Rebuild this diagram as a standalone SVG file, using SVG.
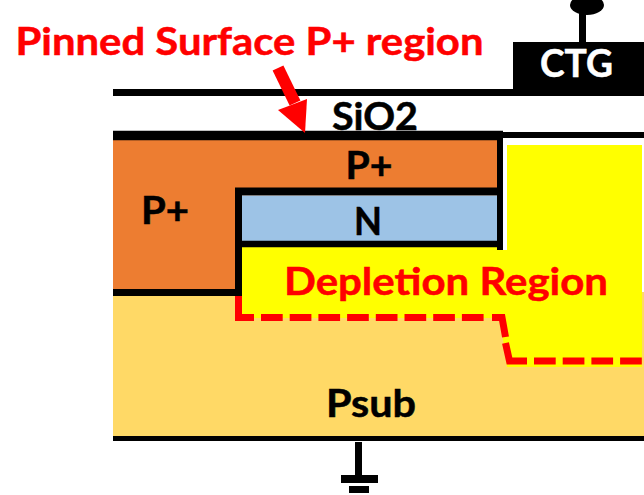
<svg xmlns="http://www.w3.org/2000/svg" width="644" height="495" viewBox="0 0 644 495">
<style>
text{font-family:Lato,"Liberation Sans",sans-serif;font-weight:700;text-anchor:middle;stroke-width:.5}
.k{fill:#000;stroke:#000}
.r{fill:#f00;stroke:#f00}
.o{fill:none;stroke:#000;stroke-width:7}
.d{fill:none;stroke:#f00;stroke-width:7}
.dd{stroke-dasharray:21.700 7}
</style>
<rect width="644" height="495" fill="#fff"/>
<g id="psub"><rect x="113" y="292" width="531" height="145" fill="#ffd966"/><rect x="113" y="436" width="531" height="5" fill="#000"/><text class="k" x="371" y="417" font-size="38" textLength="90" lengthAdjust="spacingAndGlyphs">Psub</text></g>
<g id="depletion"><path d="M642 145H507V247H242V318H500L507 367H642Z" fill="#ff0"/><rect x="503" y="138" width="141" height="7" fill="#fff"/><rect x="503" y="138" width="4" height="112" fill="#fff"/><text class="r" x="446" y="295" font-size="38" textLength="324" lengthAdjust="spacingAndGlyphs">Depletion Region</text></g>
<g id="p-left"><rect x="113" y="140" width="129" height="150" fill="#ed7d31"/><text class="k" x="165" y="224" font-size="38" textLength="48" lengthAdjust="spacingAndGlyphs">P+</text></g>
<g id="p-top"><rect x="242" y="140" width="255" height="48" fill="#ed7d31"/><text class="k" x="369" y="179" font-size="38" textLength="47" lengthAdjust="spacingAndGlyphs">P+</text></g>
<g id="n"><rect x="242" y="196" width="255" height="45" fill="#9dc3e6"/><text class="k" x="368" y="235" font-size="38" textLength="28" lengthAdjust="spacingAndGlyphs">N</text></g>
<g id="sio2"><text class="k" x="375" y="130" font-size="38" textLength="86" lengthAdjust="spacingAndGlyphs">SiO2</text></g>
<g id="ctg"><rect x="513" y="42" width="131" height="50" fill="#000"/><rect x="579" y="10" width="7" height="33" fill="#000"/><ellipse cx="587" cy="5" rx="17" ry="10" fill="#000"/><text x="576.500" y="77" font-size="38" fill="#fff" stroke="#fff" textLength="73" lengthAdjust="spacingAndGlyphs">CTG</text></g>
<g id="ground"><rect x="355" y="442" width="7" height="33" fill="#000"/><rect x="341" y="475" width="37" height="8" fill="#000"/><rect x="349" y="486" width="20" height="7" fill="#000"/></g>
<g id="label"><text class="r" x="249.500" y="55" font-size="38" textLength="468" lengthAdjust="spacingAndGlyphs">Pinned Surface P+ region</text></g>
<g id="connectors">
<path d="M113 92.500H644" class="o"/>
<path d="M113 135.500H503" stroke="#000" stroke-width="9.500" fill="none"/>
<path d="M503 135H644" fill="none" stroke="#000" stroke-width="6"/>
<path d="M500 132V250" fill="none" stroke="#000" stroke-width="6"/>
<path d="M238.500 188V292.500H113" class="o"/>
<path d="M235 191.500H503" fill="none" stroke="#000" stroke-width="8"/>
<path d="M235 244H503" fill="none" stroke="#000" stroke-width="6.500"/>
<path d="M238.500 296V317.500H254" class="d"/>
<path d="M261 317.500H488" class="d dd"/>
<path d="M492 317.500H502L505.500 337" class="d"/>
<path d="M505.500 343L509.500 361H527" class="d"/>
<path d="M534 361H642" class="d dd"/>
<path d="M278 68L295 103" stroke="#f00" stroke-width="12" fill="none"/>
<path d="M278 110L307 99L305 133Z" fill="#f00"/>
</g>
</svg>
